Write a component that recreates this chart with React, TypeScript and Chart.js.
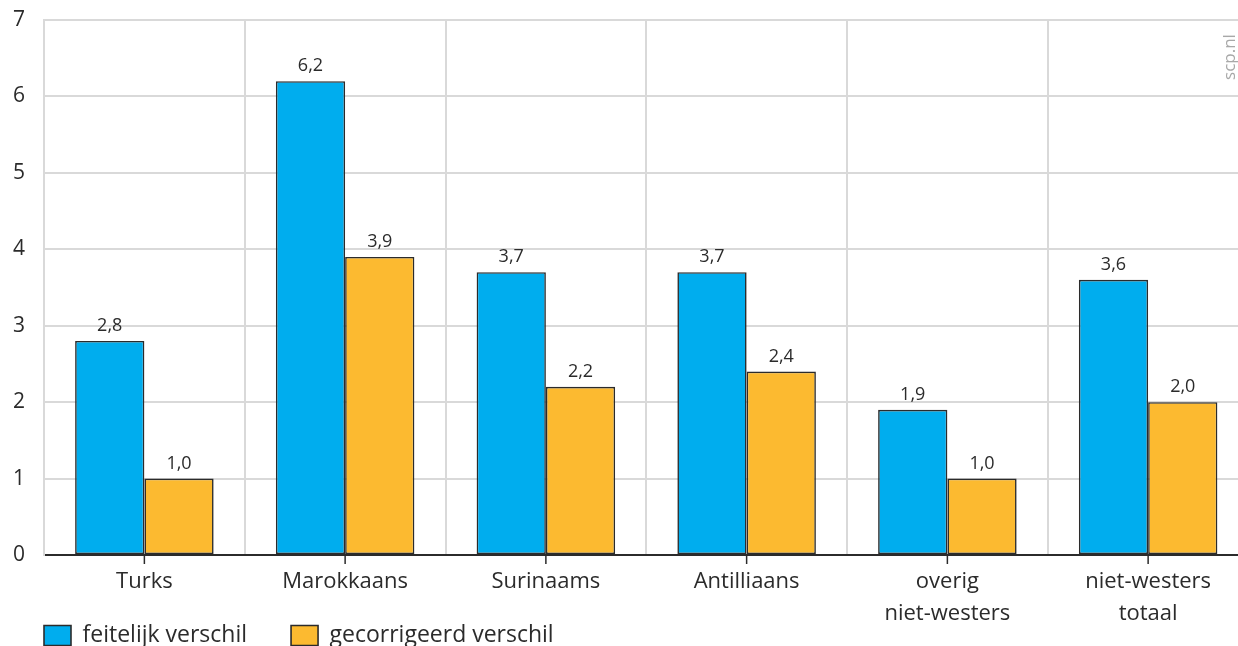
import React, { useEffect, useRef } from "react";
import { Chart, registerables } from "chart.js";

Chart.register(...registerables);

const categories: (string | string[])[] = [
  "Turks",
  "Marokkaans",
  "Surinaams",
  "Antilliaans",
  ["overig", "niet-westers"],
  ["niet-westers", "totaal"],
];
const feitelijk = [2.8, 6.2, 3.7, 3.7, 1.9, 3.6];
const gecorrigeerd = [1.0, 3.9, 2.2, 2.4, 1.0, 2.0];
const seriesNames = ["feitelijk verschil", "gecorrigeerd verschil"];
const yTicks = [0, 1, 2, 3, 4, 5, 6, 7];
const watermark = "scp.nl";

const FONT = "'Open Sans', 'Noto Sans', sans-serif";
const DARK = "#2b2b2b";
const GRID = "#d9d9d9";

const fmt = (v: number) => v.toFixed(1).replace(".", ",");

const extrasPlugin = {
  id: "extras",
  afterLayout(chart: any) {
    // let the x-axis labels run down into the legend band without clipping
    chart.scales.x.bottom = chart.height;
  },
  afterDraw(chart: any) {
    const ctx = chart.ctx;
    const x = chart.scales.x;
    ctx.save();
    ctx.strokeStyle = DARK;
    ctx.lineWidth = 1.5;
    for (let i = 0; i < x.ticks.length; i++) {
      const px = x.getPixelForTick(i);
      ctx.beginPath();
      ctx.moveTo(px, x.top);
      ctx.lineTo(px, x.top + 9);
      ctx.stroke();
    }
    ctx.fillStyle = DARK;
    ctx.font = `18px ${FONT}`;
    ctx.textAlign = "center";
    ctx.textBaseline = "alphabetic";
    chart.data.datasets.forEach((ds: any, di: number) => {
      const meta = chart.getDatasetMeta(di);
      meta.data.forEach((bar: any, i: number) => {
        ctx.fillText(fmt(ds.data[i]), bar.x, bar.y - 10);
      });
    });
    ctx.fillStyle = "#a8a8a8";
    ctx.font = `17px ${FONT}`;
    ctx.translate(1230, 57);
    ctx.rotate(-Math.PI / 2);
    ctx.textAlign = "center";
    ctx.textBaseline = "middle";
    ctx.fillText(watermark, 0, 0);
    ctx.restore();
  },
};

export default function App() {
  const ref = useRef<HTMLCanvasElement | null>(null);
  useEffect(() => {
    if (!ref.current) return;
    const chart = new Chart(ref.current, {
      type: "bar",
      data: {
        labels: categories,
        datasets: [
          {
            label: seriesNames[0],
            data: feitelijk,
            backgroundColor: "#00adee",
            borderColor: DARK,
            borderWidth: 1.6,
            borderSkipped: false,
            categoryPercentage: 0.69,
            barPercentage: 1.0,
          },
          {
            label: seriesNames[1],
            data: gecorrigeerd,
            backgroundColor: "#fcba30",
            borderColor: DARK,
            borderWidth: 1.6,
            borderSkipped: false,
            categoryPercentage: 0.69,
            barPercentage: 1.0,
          },
        ],
      },
      options: {
        animation: false,
        responsive: true,
        maintainAspectRatio: false,
        layout: { padding: { left: 0, right: 3.5, top: 20, bottom: 0 } },
        plugins: {
          tooltip: { enabled: false },
          legend: {
            position: "bottom",
            align: "start",
            labels: {
              boxWidth: 27,
              boxHeight: 20,
              padding: 44,
              color: DARK,
              font: { family: FONT, size: 23 },
            },
          },
        },
        scales: {
          x: {
            offset: true,
            grid: {
              offset: true,
              color: GRID,
              lineWidth: 2,
              drawTicks: false,
            },
            border: { color: DARK, width: 2 },
            ticks: {
              autoSkip: false,
              maxRotation: 0,
              padding: 11,
              color: DARK,
              font: { family: FONT, size: 22, lineHeight: 1.45 },
            },
            afterFit: (s: any) => {
              s.height = 25;
            },
          },
          y: {
            min: 0,
            max: 7,
            afterBuildTicks: (s: any) => {
              s.ticks = yTicks.map((v) => ({ value: v }));
            },
            grid: {
              color: (c: any) => (c.tick && c.tick.value === 0 ? DARK : GRID),
              lineWidth: 2,
              drawTicks: false,
            },
            border: { color: GRID, width: 2 },
            ticks: {
              padding: 19,
              color: DARK,
              font: { family: FONT, size: 21 },
              callback: (v: any) => String(v),
            },
            afterFit: (s: any) => {
              s.width = 44;
              s.paddingTop = 0;
              s.paddingBottom = 0;
            },
          },
        },
      },
      plugins: [extrasPlugin],
    });
    return () => chart.destroy();
  }, []);

  return (
    <div
      style={{
        position: "fixed",
        left: 0,
        top: 0,
        width: 1238,
        height: 646,
        overflow: "hidden",
        background: "#fff",
      }}
    >
      <div style={{ position: "relative", width: 1252, height: 657 }}>
        <canvas ref={ref} />
      </div>
    </div>
  );
}
